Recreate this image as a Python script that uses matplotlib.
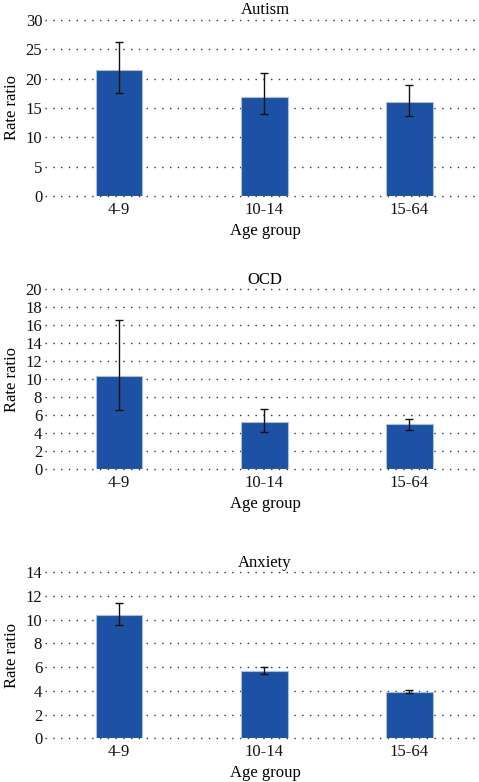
import matplotlib.pyplot as plt
import numpy as np

plt.rcParams['font.family'] = ['Liberation Serif', 'DejaVu Serif']

groups = ['4-9', '10-14', '15-64']

autism = [21.5, 16.9, 16.1]
autism_lo = [17.6, 13.9, 13.6]
autism_hi = [26.2, 20.9, 18.9]

ocd = [10.4, 5.3, 5.0]
ocd_lo = [6.55, 4.15, 4.33]
ocd_hi = [16.6, 6.7, 5.55]

anxiety = [10.42, 5.7, 3.93]
anxiety_lo = [9.53, 5.4, 3.82]
anxiety_hi = [11.43, 6.04, 4.05]

W, H = 479, 782
fig = plt.figure(figsize=(W / 100, H / 100), dpi=100)

# title, values, ci low, ci high, y max, y step, axes top px, axes bottom px
panels = [
    ('Autism', autism, autism_lo, autism_hi, 30, 5, 20, 196),
    ('OCD', ocd, ocd_lo, ocd_hi, 20, 2, 289.3, 469.3),
    ('Anxiety', anxiety, anxiety_lo, anxiety_hi, 14, 2, 572.3, 738.3),
]

bar_color = '#1c51a3'
edge_color = '#a9c0e6'
fs = 12

for title, vals, lo, hi, ymax, step, ytop, ybot in panels:
    ax = fig.add_axes([45 / W, 1 - ybot / H, 440 / W, (ybot - ytop) / H])
    x = np.arange(len(groups))
    vals = np.array(vals)
    err = [vals - np.array(lo), np.array(hi) - vals]
    ax.bar(x, vals, width=0.32, color=bar_color, edgecolor=edge_color,
           linewidth=0.8, zorder=3)
    ax.errorbar(x, vals, yerr=err, fmt='none', ecolor='#111111',
                elinewidth=1.0, capsize=3, capthick=1.0, zorder=4)
    ax.set_xlim(-0.51, 2.52)
    ax.set_ylim(0, ymax)
    ax.set_yticks(np.arange(0, ymax + step / 2, step))
    ax.set_xticks(x)
    ax.set_xticklabels(groups)
    ax.yaxis.grid(True, linestyle=(0, (1, 4.6)), color='#333333',
                  linewidth=1.0, zorder=0)
    for gl in ax.get_ygridlines():
        gl.set_clip_on(False)
    ax.set_axisbelow(True)
    for s in ax.spines.values():
        s.set_visible(False)
    ax.tick_params(length=0, labelsize=fs, colors='#111111')
    ax.tick_params(axis='y', pad=2)
    ax.tick_params(axis='x', pad=4)
    ax.set_title(title, fontsize=fs, pad=4)
    ax.set_xlabel('Age group', fontsize=fs, labelpad=4)
    ax.set_ylabel('Rate ratio', fontsize=fs, labelpad=4)

fig.savefig('out.png', dpi=100)
